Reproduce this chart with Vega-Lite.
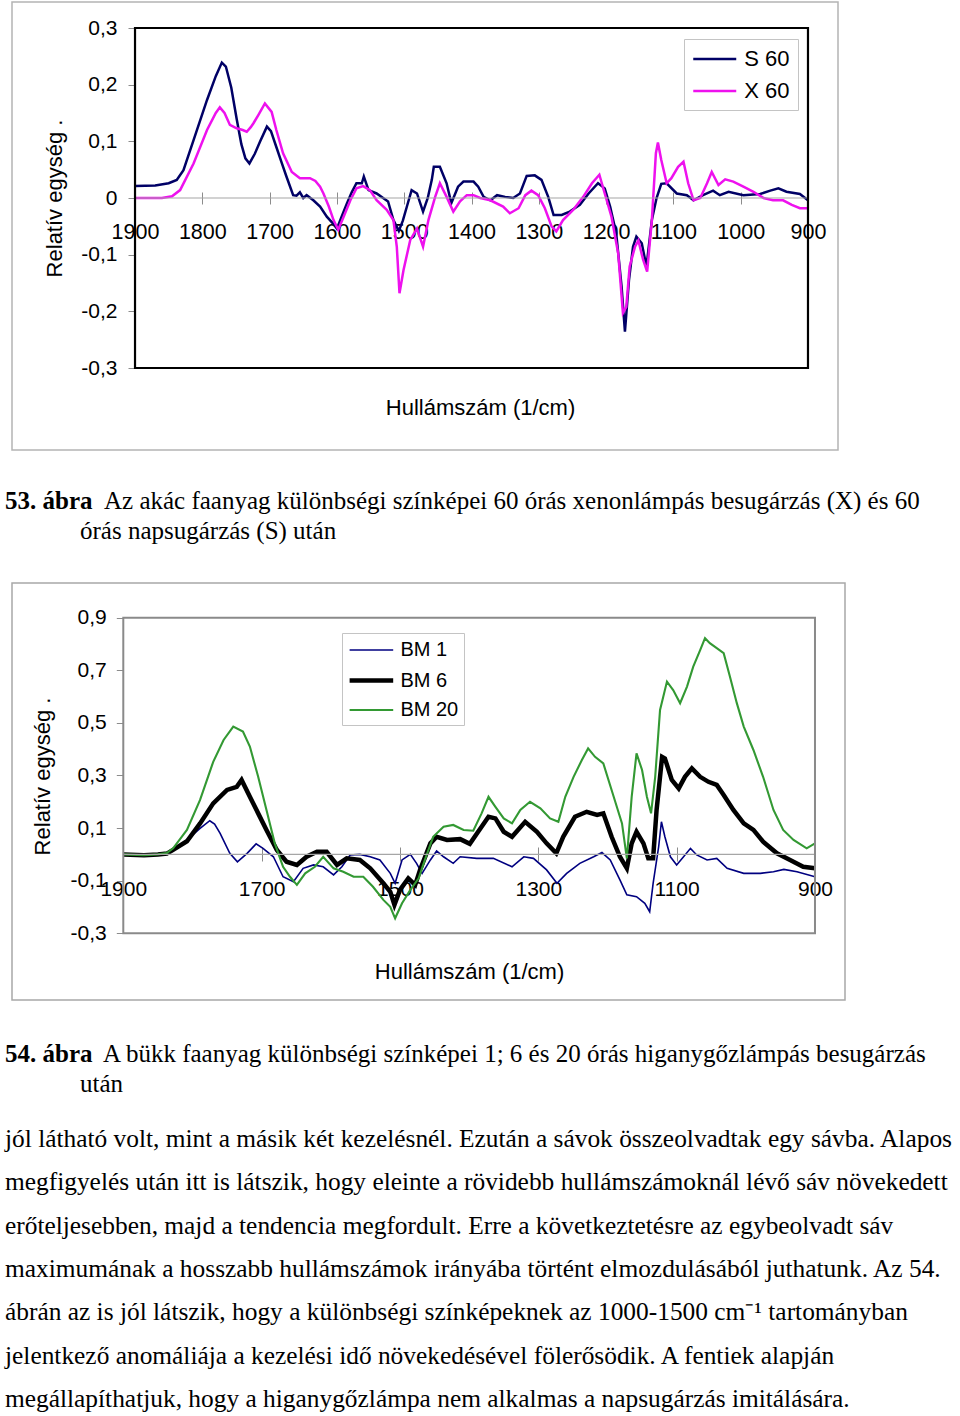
{
"$schema": "https://vega.github.io/schema/vega-lite/v6.json",
"background": "white",
"padding": {"left": 5, "top": 1, "right": 5, "bottom": 0},
"spacing": 0,
"bounds": "flush",
"resolve": {"scale": {"color": "independent", "strokeWidth": "independent"}, "legend": {"color": "independent", "strokeWidth": "independent"}},
"config": {"view": {"stroke": null}, "font": "Liberation Sans"},
"datasets": {
"c1": [
{"s":"S 60","w":1900,"v":0.021},{"s":"S 60","w":1870,"v":0.022},{"s":"S 60","w":1850,"v":0.026},{"s":"S 60","w":1838,"v":0.032},{"s":"S 60","w":1828,"v":0.049},{"s":"S 60","w":1813,"v":0.102},{"s":"S 60","w":1793,"v":0.173},{"s":"S 60","w":1780,"v":0.215},{"s":"S 60","w":1771,"v":0.239},{"s":"S 60","w":1765,"v":0.232},{"s":"S 60","w":1757,"v":0.195},{"s":"S 60","w":1749,"v":0.14},{"s":"S 60","w":1742,"v":0.095},{"s":"S 60","w":1736,"v":0.07},{"s":"S 60","w":1730,"v":0.061},{"s":"S 60","w":1722,"v":0.078},{"s":"S 60","w":1714,"v":0.1},{"s":"S 60","w":1704,"v":0.126},{"s":"S 60","w":1698,"v":0.118},{"s":"S 60","w":1690,"v":0.09},{"s":"S 60","w":1682,"v":0.062},{"s":"S 60","w":1675,"v":0.038},{"s":"S 60","w":1665,"v":0.005},{"s":"S 60","w":1660,"v":0.004},{"s":"S 60","w":1655,"v":0.01},{"s":"S 60","w":1650,"v":0.0},{"s":"S 60","w":1645,"v":0.005},{"s":"S 60","w":1635,"v":-0.004},{"s":"S 60","w":1625,"v":-0.015},{"s":"S 60","w":1615,"v":-0.033},{"s":"S 60","w":1605,"v":-0.046},{"s":"S 60","w":1600,"v":-0.054},{"s":"S 60","w":1592,"v":-0.03},{"s":"S 60","w":1585,"v":-0.009},{"s":"S 60","w":1578,"v":0.01},{"s":"S 60","w":1571,"v":0.026},{"s":"S 60","w":1563,"v":0.026},{"s":"S 60","w":1560,"v":0.038},{"s":"S 60","w":1553,"v":0.014},{"s":"S 60","w":1541,"v":0.008},{"s":"S 60","w":1524,"v":-0.006},{"s":"S 60","w":1516,"v":-0.039},{"s":"S 60","w":1508,"v":-0.058},{"s":"S 60","w":1502,"v":-0.04},{"s":"S 60","w":1496,"v":-0.015},{"s":"S 60","w":1489,"v":0.014},{"s":"S 60","w":1481,"v":0.008},{"s":"S 60","w":1472,"v":-0.024},{"s":"S 60","w":1465,"v":0.0},{"s":"S 60","w":1459,"v":0.032},{"s":"S 60","w":1456,"v":0.055},{"s":"S 60","w":1447,"v":0.055},{"s":"S 60","w":1437,"v":0.026},{"s":"S 60","w":1430,"v":-0.009},{"s":"S 60","w":1420,"v":0.02},{"s":"S 60","w":1412,"v":0.029},{"s":"S 60","w":1397,"v":0.029},{"s":"S 60","w":1390,"v":0.02},{"s":"S 60","w":1382,"v":0.002},{"s":"S 60","w":1372,"v":-0.004},{"s":"S 60","w":1362,"v":0.005},{"s":"S 60","w":1350,"v":0.002},{"s":"S 60","w":1338,"v":0.0},{"s":"S 60","w":1328,"v":0.008},{"s":"S 60","w":1318,"v":0.039},{"s":"S 60","w":1306,"v":0.04},{"s":"S 60","w":1296,"v":0.032},{"s":"S 60","w":1286,"v":0.002},{"s":"S 60","w":1278,"v":-0.03},{"s":"S 60","w":1266,"v":-0.03},{"s":"S 60","w":1254,"v":-0.024},{"s":"S 60","w":1239,"v":-0.012},{"s":"S 60","w":1226,"v":0.008},{"s":"S 60","w":1212,"v":0.026},{"s":"S 60","w":1202,"v":0.017},{"s":"S 60","w":1194,"v":-0.015},{"s":"S 60","w":1185,"v":-0.062},{"s":"S 60","w":1177,"v":-0.156},{"s":"S 60","w":1172,"v":-0.236},{"s":"S 60","w":1166,"v":-0.145},{"s":"S 60","w":1160,"v":-0.086},{"s":"S 60","w":1155,"v":-0.068},{"s":"S 60","w":1147,"v":-0.08},{"s":"S 60","w":1140,"v":-0.121},{"s":"S 60","w":1132,"v":-0.039},{"s":"S 60","w":1125,"v":0.0},{"s":"S 60","w":1118,"v":0.025},{"s":"S 60","w":1110,"v":0.026},{"s":"S 60","w":1095,"v":0.008},{"s":"S 60","w":1080,"v":0.005},{"s":"S 60","w":1070,"v":-0.004},{"s":"S 60","w":1056,"v":0.005},{"s":"S 60","w":1041,"v":0.013},{"s":"S 60","w":1031,"v":0.005},{"s":"S 60","w":1018,"v":0.011},{"s":"S 60","w":996,"v":0.005},{"s":"S 60","w":971,"v":0.007},{"s":"S 60","w":956,"v":0.013},{"s":"S 60","w":944,"v":0.017},{"s":"S 60","w":932,"v":0.011},{"s":"S 60","w":912,"v":0.007},{"s":"S 60","w":900,"v":-0.004},
{"s":"X 60","w":1900,"v":0.0},{"s":"X 60","w":1860,"v":0.0},{"s":"X 60","w":1845,"v":0.003},{"s":"X 60","w":1833,"v":0.014},{"s":"X 60","w":1813,"v":0.061},{"s":"X 60","w":1793,"v":0.12},{"s":"X 60","w":1780,"v":0.15},{"s":"X 60","w":1774,"v":0.16},{"s":"X 60","w":1767,"v":0.15},{"s":"X 60","w":1759,"v":0.129},{"s":"X 60","w":1749,"v":0.123},{"s":"X 60","w":1740,"v":0.12},{"s":"X 60","w":1734,"v":0.117},{"s":"X 60","w":1728,"v":0.125},{"s":"X 60","w":1724,"v":0.132},{"s":"X 60","w":1717,"v":0.146},{"s":"X 60","w":1707,"v":0.167},{"s":"X 60","w":1697,"v":0.152},{"s":"X 60","w":1690,"v":0.12},{"s":"X 60","w":1680,"v":0.079},{"s":"X 60","w":1667,"v":0.046},{"s":"X 60","w":1655,"v":0.035},{"s":"X 60","w":1640,"v":0.035},{"s":"X 60","w":1632,"v":0.03},{"s":"X 60","w":1625,"v":0.02},{"s":"X 60","w":1620,"v":0.008},{"s":"X 60","w":1612,"v":-0.015},{"s":"X 60","w":1605,"v":-0.039},{"s":"X 60","w":1598,"v":-0.056},{"s":"X 60","w":1590,"v":-0.033},{"s":"X 60","w":1580,"v":-0.004},{"s":"X 60","w":1571,"v":0.017},{"s":"X 60","w":1561,"v":0.021},{"s":"X 60","w":1551,"v":0.014},{"s":"X 60","w":1541,"v":-0.004},{"s":"X 60","w":1526,"v":-0.021},{"s":"X 60","w":1516,"v":-0.039},{"s":"X 60","w":1511,"v":-0.086},{"s":"X 60","w":1507,"v":-0.168},{"s":"X 60","w":1501,"v":-0.127},{"s":"X 60","w":1491,"v":-0.074},{"s":"X 60","w":1481,"v":-0.054},{"s":"X 60","w":1472,"v":-0.086},{"s":"X 60","w":1464,"v":-0.039},{"s":"X 60","w":1454,"v":0.002},{"s":"X 60","w":1447,"v":0.026},{"s":"X 60","w":1437,"v":0.002},{"s":"X 60","w":1427,"v":-0.024},{"s":"X 60","w":1417,"v":-0.006},{"s":"X 60","w":1407,"v":0.005},{"s":"X 60","w":1397,"v":0.005},{"s":"X 60","w":1387,"v":0.0},{"s":"X 60","w":1372,"v":-0.004},{"s":"X 60","w":1353,"v":-0.015},{"s":"X 60","w":1343,"v":-0.027},{"s":"X 60","w":1330,"v":-0.018},{"s":"X 60","w":1320,"v":0.005},{"s":"X 60","w":1311,"v":0.013},{"s":"X 60","w":1301,"v":0.005},{"s":"X 60","w":1291,"v":-0.018},{"s":"X 60","w":1281,"v":-0.05},{"s":"X 60","w":1274,"v":-0.059},{"s":"X 60","w":1264,"v":-0.039},{"s":"X 60","w":1249,"v":-0.021},{"s":"X 60","w":1234,"v":0.002},{"s":"X 60","w":1221,"v":0.026},{"s":"X 60","w":1210,"v":0.041},{"s":"X 60","w":1202,"v":0.008},{"s":"X 60","w":1192,"v":-0.033},{"s":"X 60","w":1182,"v":-0.098},{"s":"X 60","w":1175,"v":-0.203},{"s":"X 60","w":1170,"v":-0.192},{"s":"X 60","w":1165,"v":-0.121},{"s":"X 60","w":1157,"v":-0.086},{"s":"X 60","w":1152,"v":-0.075},{"s":"X 60","w":1145,"v":-0.109},{"s":"X 60","w":1139,"v":-0.13},{"s":"X 60","w":1132,"v":-0.039},{"s":"X 60","w":1126,"v":0.079},{"s":"X 60","w":1123,"v":0.098},{"s":"X 60","w":1118,"v":0.067},{"s":"X 60","w":1110,"v":0.026},{"s":"X 60","w":1103,"v":0.035},{"s":"X 60","w":1093,"v":0.055},{"s":"X 60","w":1085,"v":0.064},{"s":"X 60","w":1078,"v":0.026},{"s":"X 60","w":1070,"v":-0.004},{"s":"X 60","w":1060,"v":0.0},{"s":"X 60","w":1050,"v":0.026},{"s":"X 60","w":1043,"v":0.046},{"s":"X 60","w":1033,"v":0.023},{"s":"X 60","w":1023,"v":0.033},{"s":"X 60","w":1011,"v":0.029},{"s":"X 60","w":996,"v":0.02},{"s":"X 60","w":981,"v":0.011},{"s":"X 60","w":966,"v":0.0},{"s":"X 60","w":952,"v":-0.004},{"s":"X 60","w":937,"v":-0.004},{"s":"X 60","w":924,"v":-0.012},{"s":"X 60","w":912,"v":-0.018},{"s":"X 60","w":900,"v":-0.018}
],
"c2": [
{"s":"BM 1","w":1900,"v":0.0},{"s":"BM 1","w":1870,"v":-0.003},{"s":"BM 1","w":1850,"v":0.0},{"s":"BM 1","w":1837,"v":0.002},{"s":"BM 1","w":1828,"v":0.017},{"s":"BM 1","w":1808,"v":0.055},{"s":"BM 1","w":1789,"v":0.099},{"s":"BM 1","w":1775,"v":0.128},{"s":"BM 1","w":1768,"v":0.115},{"s":"BM 1","w":1760,"v":0.08},{"s":"BM 1","w":1746,"v":0.004},{"s":"BM 1","w":1735,"v":-0.028},{"s":"BM 1","w":1721,"v":0.004},{"s":"BM 1","w":1708,"v":0.04},{"s":"BM 1","w":1698,"v":0.023},{"s":"BM 1","w":1683,"v":-0.009},{"s":"BM 1","w":1669,"v":-0.085},{"s":"BM 1","w":1654,"v":-0.104},{"s":"BM 1","w":1640,"v":-0.053},{"s":"BM 1","w":1625,"v":-0.04},{"s":"BM 1","w":1611,"v":-0.047},{"s":"BM 1","w":1596,"v":-0.078},{"s":"BM 1","w":1584,"v":-0.047},{"s":"BM 1","w":1572,"v":-0.002},{"s":"BM 1","w":1558,"v":0.0},{"s":"BM 1","w":1543,"v":-0.009},{"s":"BM 1","w":1529,"v":-0.021},{"s":"BM 1","w":1514,"v":-0.072},{"s":"BM 1","w":1507,"v":-0.11},{"s":"BM 1","w":1497,"v":-0.021},{"s":"BM 1","w":1485,"v":0.0},{"s":"BM 1","w":1476,"v":-0.034},{"s":"BM 1","w":1468,"v":-0.072},{"s":"BM 1","w":1456,"v":-0.021},{"s":"BM 1","w":1447,"v":0.013},{"s":"BM 1","w":1437,"v":-0.009},{"s":"BM 1","w":1423,"v":-0.034},{"s":"BM 1","w":1413,"v":-0.009},{"s":"BM 1","w":1389,"v":-0.015},{"s":"BM 1","w":1365,"v":-0.015},{"s":"BM 1","w":1338,"v":-0.047},{"s":"BM 1","w":1321,"v":-0.009},{"s":"BM 1","w":1307,"v":-0.015},{"s":"BM 1","w":1288,"v":-0.059},{"s":"BM 1","w":1273,"v":-0.11},{"s":"BM 1","w":1259,"v":-0.072},{"s":"BM 1","w":1240,"v":-0.034},{"s":"BM 1","w":1220,"v":-0.009},{"s":"BM 1","w":1208,"v":0.007},{"s":"BM 1","w":1196,"v":-0.021},{"s":"BM 1","w":1182,"v":-0.097},{"s":"BM 1","w":1172,"v":-0.154},{"s":"BM 1","w":1158,"v":-0.161},{"s":"BM 1","w":1146,"v":-0.186},{"s":"BM 1","w":1139,"v":-0.218},{"s":"BM 1","w":1134,"v":-0.11},{"s":"BM 1","w":1126,"v":0.029},{"s":"BM 1","w":1122,"v":0.124},{"s":"BM 1","w":1117,"v":0.067},{"s":"BM 1","w":1109,"v":-0.009},{"s":"BM 1","w":1100,"v":-0.04},{"s":"BM 1","w":1090,"v":-0.009},{"s":"BM 1","w":1080,"v":0.023},{"s":"BM 1","w":1071,"v":-0.002},{"s":"BM 1","w":1056,"v":-0.021},{"s":"BM 1","w":1042,"v":-0.015},{"s":"BM 1","w":1027,"v":-0.053},{"s":"BM 1","w":1003,"v":-0.072},{"s":"BM 1","w":979,"v":-0.072},{"s":"BM 1","w":960,"v":-0.066},{"s":"BM 1","w":945,"v":-0.057},{"s":"BM 1","w":926,"v":-0.066},{"s":"BM 1","w":900,"v":-0.085},
{"s":"BM 6","w":1900,"v":0.0},{"s":"BM 6","w":1870,"v":-0.003},{"s":"BM 6","w":1850,"v":0.0},{"s":"BM 6","w":1837,"v":0.003},{"s":"BM 6","w":1828,"v":0.017},{"s":"BM 6","w":1808,"v":0.05},{"s":"BM 6","w":1789,"v":0.118},{"s":"BM 6","w":1770,"v":0.194},{"s":"BM 6","w":1750,"v":0.245},{"s":"BM 6","w":1736,"v":0.257},{"s":"BM 6","w":1729,"v":0.283},{"s":"BM 6","w":1717,"v":0.219},{"s":"BM 6","w":1705,"v":0.156},{"s":"BM 6","w":1693,"v":0.093},{"s":"BM 6","w":1678,"v":0.017},{"s":"BM 6","w":1664,"v":-0.028},{"s":"BM 6","w":1649,"v":-0.04},{"s":"BM 6","w":1635,"v":-0.009},{"s":"BM 6","w":1620,"v":0.01},{"s":"BM 6","w":1606,"v":0.01},{"s":"BM 6","w":1591,"v":-0.04},{"s":"BM 6","w":1577,"v":-0.015},{"s":"BM 6","w":1558,"v":-0.021},{"s":"BM 6","w":1543,"v":-0.053},{"s":"BM 6","w":1524,"v":-0.11},{"s":"BM 6","w":1514,"v":-0.142},{"s":"BM 6","w":1508,"v":-0.192},{"s":"BM 6","w":1500,"v":-0.135},{"s":"BM 6","w":1488,"v":-0.091},{"s":"BM 6","w":1478,"v":-0.116},{"s":"BM 6","w":1471,"v":-0.059},{"s":"BM 6","w":1456,"v":0.042},{"s":"BM 6","w":1447,"v":0.067},{"s":"BM 6","w":1432,"v":0.055},{"s":"BM 6","w":1413,"v":0.058},{"s":"BM 6","w":1399,"v":0.04},{"s":"BM 6","w":1387,"v":0.086},{"s":"BM 6","w":1372,"v":0.143},{"s":"BM 6","w":1362,"v":0.137},{"s":"BM 6","w":1350,"v":0.086},{"s":"BM 6","w":1338,"v":0.067},{"s":"BM 6","w":1319,"v":0.124},{"s":"BM 6","w":1302,"v":0.086},{"s":"BM 6","w":1288,"v":0.042},{"s":"BM 6","w":1274,"v":0.004},{"s":"BM 6","w":1264,"v":0.067},{"s":"BM 6","w":1247,"v":0.143},{"s":"BM 6","w":1230,"v":0.162},{"s":"BM 6","w":1215,"v":0.15},{"s":"BM 6","w":1206,"v":0.156},{"s":"BM 6","w":1194,"v":0.067},{"s":"BM 6","w":1182,"v":-0.009},{"s":"BM 6","w":1172,"v":-0.053},{"s":"BM 6","w":1165,"v":0.042},{"s":"BM 6","w":1158,"v":0.086},{"s":"BM 6","w":1148,"v":0.042},{"s":"BM 6","w":1141,"v":-0.015},{"s":"BM 6","w":1134,"v":-0.015},{"s":"BM 6","w":1129,"v":0.169},{"s":"BM 6","w":1121,"v":0.371},{"s":"BM 6","w":1117,"v":0.365},{"s":"BM 6","w":1107,"v":0.283},{"s":"BM 6","w":1097,"v":0.251},{"s":"BM 6","w":1088,"v":0.295},{"s":"BM 6","w":1078,"v":0.327},{"s":"BM 6","w":1066,"v":0.295},{"s":"BM 6","w":1054,"v":0.276},{"s":"BM 6","w":1042,"v":0.264},{"s":"BM 6","w":1032,"v":0.226},{"s":"BM 6","w":1018,"v":0.169},{"s":"BM 6","w":1003,"v":0.118},{"s":"BM 6","w":989,"v":0.093},{"s":"BM 6","w":975,"v":0.048},{"s":"BM 6","w":955,"v":0.004},{"s":"BM 6","w":936,"v":-0.021},{"s":"BM 6","w":917,"v":-0.047},{"s":"BM 6","w":900,"v":-0.053},
{"s":"BM 20","w":1900,"v":0.0},{"s":"BM 20","w":1870,"v":-0.003},{"s":"BM 20","w":1850,"v":0.0},{"s":"BM 20","w":1837,"v":0.005},{"s":"BM 20","w":1828,"v":0.023},{"s":"BM 20","w":1808,"v":0.093},{"s":"BM 20","w":1789,"v":0.207},{"s":"BM 20","w":1770,"v":0.352},{"s":"BM 20","w":1755,"v":0.435},{"s":"BM 20","w":1741,"v":0.486},{"s":"BM 20","w":1727,"v":0.467},{"s":"BM 20","w":1717,"v":0.41},{"s":"BM 20","w":1705,"v":0.295},{"s":"BM 20","w":1693,"v":0.169},{"s":"BM 20","w":1681,"v":0.042},{"s":"BM 20","w":1669,"v":-0.047},{"s":"BM 20","w":1659,"v":-0.085},{"s":"BM 20","w":1649,"v":-0.116},{"s":"BM 20","w":1637,"v":-0.072},{"s":"BM 20","w":1623,"v":-0.047},{"s":"BM 20","w":1611,"v":-0.009},{"s":"BM 20","w":1596,"v":-0.053},{"s":"BM 20","w":1582,"v":-0.066},{"s":"BM 20","w":1567,"v":-0.085},{"s":"BM 20","w":1553,"v":-0.085},{"s":"BM 20","w":1539,"v":-0.123},{"s":"BM 20","w":1524,"v":-0.173},{"s":"BM 20","w":1514,"v":-0.199},{"s":"BM 20","w":1507,"v":-0.243},{"s":"BM 20","w":1497,"v":-0.186},{"s":"BM 20","w":1485,"v":-0.135},{"s":"BM 20","w":1473,"v":-0.091},{"s":"BM 20","w":1464,"v":-0.021},{"s":"BM 20","w":1452,"v":0.067},{"s":"BM 20","w":1437,"v":0.105},{"s":"BM 20","w":1423,"v":0.112},{"s":"BM 20","w":1408,"v":0.093},{"s":"BM 20","w":1394,"v":0.09},{"s":"BM 20","w":1382,"v":0.156},{"s":"BM 20","w":1372,"v":0.219},{"s":"BM 20","w":1362,"v":0.181},{"s":"BM 20","w":1350,"v":0.137},{"s":"BM 20","w":1338,"v":0.118},{"s":"BM 20","w":1326,"v":0.169},{"s":"BM 20","w":1312,"v":0.2},{"s":"BM 20","w":1297,"v":0.175},{"s":"BM 20","w":1283,"v":0.137},{"s":"BM 20","w":1271,"v":0.124},{"s":"BM 20","w":1261,"v":0.219},{"s":"BM 20","w":1249,"v":0.295},{"s":"BM 20","w":1237,"v":0.359},{"s":"BM 20","w":1228,"v":0.403},{"s":"BM 20","w":1218,"v":0.371},{"s":"BM 20","w":1206,"v":0.346},{"s":"BM 20","w":1191,"v":0.219},{"s":"BM 20","w":1179,"v":0.118},{"s":"BM 20","w":1172,"v":-0.015},{"s":"BM 20","w":1165,"v":0.219},{"s":"BM 20","w":1158,"v":0.384},{"s":"BM 20","w":1150,"v":0.321},{"s":"BM 20","w":1143,"v":0.219},{"s":"BM 20","w":1137,"v":0.156},{"s":"BM 20","w":1131,"v":0.295},{"s":"BM 20","w":1124,"v":0.549},{"s":"BM 20","w":1114,"v":0.657},{"s":"BM 20","w":1105,"v":0.625},{"s":"BM 20","w":1095,"v":0.575},{"s":"BM 20","w":1085,"v":0.638},{"s":"BM 20","w":1076,"v":0.714},{"s":"BM 20","w":1066,"v":0.777},{"s":"BM 20","w":1059,"v":0.822},{"s":"BM 20","w":1052,"v":0.803},{"s":"BM 20","w":1042,"v":0.784},{"s":"BM 20","w":1032,"v":0.765},{"s":"BM 20","w":1023,"v":0.676},{"s":"BM 20","w":1013,"v":0.575},{"s":"BM 20","w":1003,"v":0.486},{"s":"BM 20","w":989,"v":0.397},{"s":"BM 20","w":975,"v":0.295},{"s":"BM 20","w":960,"v":0.169},{"s":"BM 20","w":946,"v":0.093},{"s":"BM 20","w":931,"v":0.055},{"s":"BM 20","w":912,"v":0.023},{"s":"BM 20","w":900,"v":0.042}
],
"cap1": [
{"line":1,"part":"label","text":"53. ábra"},
{"line":1,"part":"body","text":"Az akác faanyag különbségi színképei 60 órás xenonlámpás besugárzás (X) és 60"},
{"line":2,"part":"cont","text":"órás napsugárzás (S) után"}
],
"cap2": [
{"line":1,"part":"label","text":"54. ábra"},
{"line":1,"part":"body","text":"A bükk faanyag különbségi színképei 1; 6 és 20 órás higanygőzlámpás besugárzás"},
{"line":2,"part":"cont","text":"után"}
],
"para": [
{"line":1,"text":"jól látható volt, mint a másik két kezelésnél. Ezután a sávok összeolvadtak egy sávba. Alapos"},
{"line":2,"text":"megfigyelés után itt is látszik, hogy eleinte a rövidebb hullámszámoknál lévő sáv növekedett"},
{"line":3,"text":"erőteljesebben, majd a tendencia megfordult. Erre a következtetésre az egybeolvadt sáv"},
{"line":4,"text":"maximumának a hosszabb hullámszámok irányába történt elmozdulásából juthatunk. Az 54."},
{"line":5,"text":"ábrán az is jól látszik, hogy a különbségi színképeknek az 1000-1500 cm⁻¹ tartományban"},
{"line":6,"text":"jelentkező anomáliája a kezelési idő növekedésével fölerősödik. A fentiek alapján"},
{"line":7,"text":"megállapíthatjuk, hogy a higanygőzlámpa nem alkalmas a napsugárzás imitálására."}
]
},
"vconcat": [
{
"width": 826, "height": 448,
"view": {"stroke": "#b4b4b4", "strokeWidth": 1.5},
"layer": [
{"data": {"name": "c1"}, "mark": {"type": "line", "strokeWidth": 2.5},
 "encoding": {
  "x": {"field": "w", "type": "quantitative", "scale": {"domain": [855.4, 2082.8], "reverse": true, "nice": false, "zero": false},
   "axis": {"orient": "bottom", "offset": -258, "values": [1900,1800,1700,1600,1500,1400,1300,1200,1100,1000,900], "format": "d", "domain": false, "grid": false, "tickSize": 12, "tickColor": "#8c8c8c", "tickWidth": 1, "labelFont": "Liberation Sans", "labelFontSize": 21.5, "labelColor": "#000000", "labelPadding": 17, "labelFlush": false, "labelOverlap": false, "labelBound": false, "title": "Hullámszám (1/cm)", "titleFont": "Liberation Sans", "titleFontSize": 22, "titleFontWeight": "normal", "titleColor": "#000000", "titleX": 468, "titleY": 215, "titleAlign": "center", "titleBaseline": "middle"}},
  "y": {"field": "v", "type": "quantitative", "scale": {"domain": [-0.4447, 0.3459], "nice": false, "zero": false},
   "axis": {"orient": "left", "offset": -123, "values": [-0.3,-0.2,-0.1,0,0.1,0.2,0.3], "domain": false, "grid": false, "tickSize": 7, "tickColor": "#8c8c8c", "tickWidth": 1, "labelFont": "Liberation Sans", "labelFontSize": 21, "labelColor": "#000000", "labelPadding": 11, "labelFlush": false, "labelOverlap": false, "labelBound": false, "labelExpr": "datum.value == 0 ? '0' : replace(replace(format(datum.value, '.1f'), '.', ','), '\u2212', '-')", "title": "Relatív egység .", "titleFont": "Liberation Sans", "titleFontSize": 22, "titleFontWeight": "normal", "titleColor": "#000000", "titleX": -81, "titleY": 196, "titleAngle": 270, "titleAlign": "center", "titleBaseline": "middle"}},
  "color": {"field": "s", "type": "nominal", "scale": {"domain": ["S 60", "X 60"], "range": ["#000066", "#ee11ee"]},
   "legend": {"title": null, "orient": "none", "legendX": 672, "legendY": 37, "symbolType": "M-2,0H2", "symbolSize": 462, "symbolOffset": 10.75, "symbolStrokeWidth": 2.5, "labelFont": "Liberation Sans", "labelFontSize": 22, "labelColor": "#000000", "labelOffset": 17.5, "rowPadding": 9, "padding": 8, "strokeColor": "#c4c4c4", "fillColor": "#ffffff"}}
 }},
{"data": {"values": [{}]}, "mark": {"type": "rule", "color": "#a6a6a6", "strokeWidth": 1.2},
 "encoding": {"x": {"datum": 1900, "type": "quantitative"}, "x2": {"datum": 900}, "y": {"datum": 0, "type": "quantitative"}}},
{"data": {"values": [{}]}, "mark": {"type": "rect", "fill": "transparent", "stroke": "#000000", "strokeWidth": 2.2},
 "encoding": {"x": {"datum": 1900, "type": "quantitative"}, "x2": {"datum": 900}, "y": {"datum": -0.3, "type": "quantitative"}, "y2": {"datum": 0.3}}}
]
},
{
"width": 826, "height": 133,
"data": {"name": "cap1"},
"layer": [
{"transform": [{"filter": "datum.part == 'label'"}], "mark": {"type": "text", "align": "left", "baseline": "alphabetic", "font": "Liberation Serif", "fontSize": 25, "fontWeight": "bold", "color": "#000000"},
 "encoding": {"x": {"datum": 0, "type": "quantitative", "scale": {"domain": [0, 1], "range": [-7, 819]}, "axis": null}, "y": {"field": "line", "type": "quantitative", "scale": {"domain": [1, 2], "range": [59, 89]}, "axis": null}, "text": {"field": "text"}}},
{"transform": [{"filter": "datum.part == 'body'"}], "mark": {"type": "text", "align": "left", "baseline": "alphabetic", "font": "Liberation Serif", "fontSize": 25, "color": "#000000", "dx": 99},
 "encoding": {"x": {"datum": 0, "type": "quantitative", "axis": null}, "y": {"field": "line", "type": "quantitative", "axis": null}, "text": {"field": "text"}}},
{"transform": [{"filter": "datum.part == 'cont'"}], "mark": {"type": "text", "align": "left", "baseline": "alphabetic", "font": "Liberation Serif", "fontSize": 25, "color": "#000000", "dx": 75},
 "encoding": {"x": {"datum": 0, "type": "quantitative", "axis": null}, "y": {"field": "line", "type": "quantitative", "axis": null}, "text": {"field": "text"}}}
]
},
{
"width": 833, "height": 417,
"view": {"stroke": "#a8a8a8", "strokeWidth": 1.5},
"layer": [
{"data": {"name": "c2"}, "mark": {"type": "line"},
 "encoding": {
  "x": {"field": "w", "type": "quantitative", "scale": {"domain": [856.6, 2060.9], "reverse": true, "nice": false, "zero": false},
   "axis": {"orient": "bottom", "offset": -153, "values": [1900,1700,1500,1300,1100,900], "format": "d", "domain": false, "grid": false, "tickSize": 14, "tickColor": "#8c8c8c", "tickWidth": 1, "labelFont": "Liberation Sans", "labelFontSize": 21, "labelColor": "#000000", "labelPadding": 17, "labelFlush": false, "labelOverlap": false, "labelBound": false, "title": "Hullámszám (1/cm)", "titleFont": "Liberation Sans", "titleFontSize": 22, "titleFontWeight": "normal", "titleColor": "#000000", "titleX": 457, "titleY": 124, "titleAlign": "center", "titleBaseline": "middle"}},
  "y": {"field": "v", "type": "quantitative", "scale": {"domain": [-0.5536, 1.0319], "nice": false, "zero": false},
   "axis": {"orient": "left", "offset": -111.3, "values": [-0.3,-0.1,0.1,0.3,0.5,0.7,0.9], "domain": false, "grid": false, "tickSize": 7, "tickColor": "#8c8c8c", "tickWidth": 1, "labelFont": "Liberation Sans", "labelFontSize": 21, "labelColor": "#000000", "labelPadding": 10, "labelFlush": false, "labelOverlap": false, "labelBound": false, "labelExpr": "datum.value == 0 ? '0' : replace(replace(format(datum.value, '.1f'), '.', ','), '\u2212', '-')", "title": "Relatív egység .", "titleFont": "Liberation Sans", "titleFontSize": 22, "titleFontWeight": "normal", "titleColor": "#000000", "titleX": -81, "titleY": 193, "titleAngle": 270, "titleAlign": "center", "titleBaseline": "middle"}},
  "color": {"field": "s", "type": "nominal", "scale": {"domain": ["BM 1", "BM 6", "BM 20"], "range": ["#000080", "#000000", "#339933"]},
   "legend": {"title": null, "orient": "none", "legendX": 330, "legendY": 50, "symbolType": "M-2,0H2", "symbolSize": 475, "symbolOffset": 10.9, "labelFont": "Liberation Sans", "labelFontSize": 20, "labelColor": "#000000", "labelOffset": 15.5, "rowPadding": 7, "padding": 5, "strokeColor": "#c4c4c4", "fillColor": "#ffffff"}},
  "strokeWidth": {"field": "s", "type": "nominal", "scale": {"type": "ordinal", "domain": ["BM 1", "BM 6", "BM 20"], "range": [1.6, 4.5, 2.1]},
   "legend": {"title": null, "orient": "none", "legendX": 330, "legendY": 50, "symbolType": "M-2,0H2", "symbolSize": 475, "symbolOffset": 10.9, "labelFont": "Liberation Sans", "labelFontSize": 20, "labelColor": "#000000", "labelOffset": 15.5, "rowPadding": 7, "padding": 5, "strokeColor": "#c4c4c4", "fillColor": "#ffffff"}}
 }},
{"data": {"values": [{}]}, "mark": {"type": "rule", "color": "#a6a6a6", "strokeWidth": 1.2},
 "encoding": {"x": {"datum": 1900, "type": "quantitative"}, "x2": {"datum": 900}, "y": {"datum": 0, "type": "quantitative"}}},
{"data": {"values": [{}]}, "mark": {"type": "rect", "fill": "transparent", "stroke": "#8a8a8a", "strokeWidth": 2},
 "encoding": {"x": {"datum": 1900, "type": "quantitative"}, "x2": {"datum": 900}, "y": {"datum": -0.3, "type": "quantitative"}, "y2": {"datum": 0.9}}}
]
},
{
"width": 826, "height": 110,
"data": {"name": "cap2"},
"layer": [
{"transform": [{"filter": "datum.part == 'label'"}], "mark": {"type": "text", "align": "left", "baseline": "alphabetic", "font": "Liberation Serif", "fontSize": 25, "fontWeight": "bold", "color": "#000000"},
 "encoding": {"x": {"datum": 0, "type": "quantitative", "scale": {"domain": [0, 1], "range": [-7, 819]}, "axis": null}, "y": {"field": "line", "type": "quantitative", "scale": {"domain": [1, 2], "range": [62, 92]}, "axis": null}, "text": {"field": "text"}}},
{"transform": [{"filter": "datum.part == 'body'"}], "mark": {"type": "text", "align": "left", "baseline": "alphabetic", "font": "Liberation Serif", "fontSize": 25, "color": "#000000", "dx": 98},
 "encoding": {"x": {"datum": 0, "type": "quantitative", "axis": null}, "y": {"field": "line", "type": "quantitative", "axis": null}, "text": {"field": "text"}}},
{"transform": [{"filter": "datum.part == 'cont'"}], "mark": {"type": "text", "align": "left", "baseline": "alphabetic", "font": "Liberation Serif", "fontSize": 25, "color": "#000000", "dx": 75},
 "encoding": {"x": {"datum": 0, "type": "quantitative", "axis": null}, "y": {"field": "line", "type": "quantitative", "axis": null}, "text": {"field": "text"}}}
]
},
{
"width": 826, "height": 306,
"data": {"name": "para"},
"mark": {"type": "text", "align": "left", "baseline": "alphabetic", "font": "Liberation Serif", "fontSize": 25.4, "color": "#000000"},
"encoding": {"x": {"datum": 0, "type": "quantitative", "scale": {"domain": [0, 1], "range": [-7, 819]}, "axis": null}, "y": {"field": "line", "type": "quantitative", "scale": {"domain": [1, 7], "range": [37, 297]}, "axis": null}, "text": {"field": "text"}}
}
]
}
